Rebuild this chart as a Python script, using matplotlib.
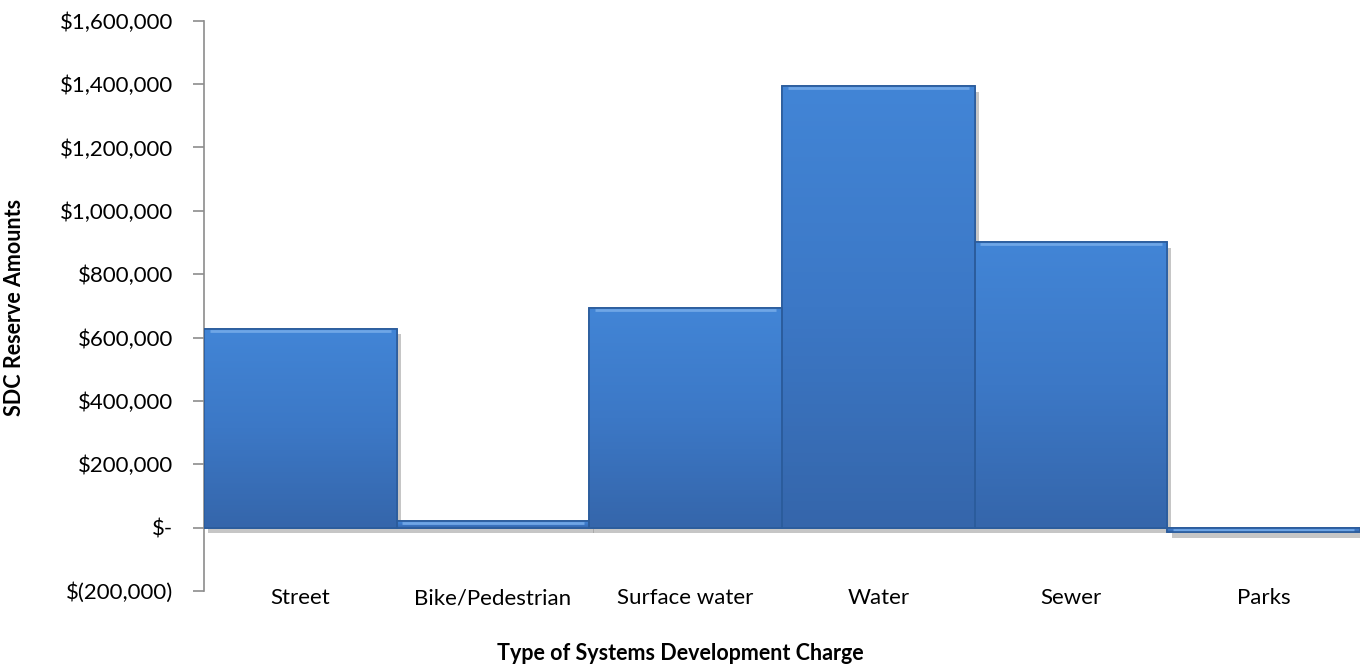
import matplotlib.pyplot as plt
import matplotlib.patheffects as pe
from matplotlib.colors import LinearSegmentedColormap
from matplotlib.ticker import FuncFormatter
import numpy as np

# data
categories = ['Street', 'Bike/Pedestrian', 'Surface water', 'Water', 'Sewer', 'Parks']
reserves = [628000, 21000, 693000, 1394000, 900000, -15000]

y_ticks = np.arange(-200000, 1600001, 200000)

plt.rcParams['font.family'] = ['Lato', 'DejaVu Sans']


def money(v, pos=None):
    if v == 0:
        return '$-'
    if v < 0:
        return '$({:,.0f})'.format(-v)
    return '${:,.0f}'.format(v)


fig = plt.figure(figsize=(13.6, 6.68), dpi=100)
ax = fig.add_axes([0.15, 0.1153, 0.85, 0.8537])

x = np.arange(len(categories))
bars = ax.bar(x, reserves, width=1.0, color='#3D7ECF', edgecolor='#2B5C9C',
              linewidth=1.2, zorder=3)

# soft vertical gradient inside each bar (lighter top, darker bottom)
grad = LinearSegmentedColormap.from_list('bar', ['#3566AB', '#3C78C6', '#4285D6'])
for b in bars:
    b.set_path_effects([pe.SimplePatchShadow(offset=(3, -4), shadow_rgbFace='#8f8f8f', alpha=0.5),
                        pe.Normal()])
    x0, y0 = b.get_x(), b.get_y()
    w, h = b.get_width(), b.get_height()
    lo, hi = min(y0, y0 + h), max(y0, y0 + h)
    im = ax.imshow(np.linspace(0, 1, 100).reshape(-1, 1), cmap=grad, origin='lower',
                   extent=[x0, x0 + w, lo, hi], aspect='auto', zorder=3.5)
    im.set_clip_path(b)
    # light bevel along the top of the bar
    ax.plot([x0 + 0.03, x0 + w - 0.03], [hi - 6000, hi - 6000], color='#6FA6E6',
            linewidth=2, zorder=4, solid_capstyle='butt')
    ax.bar(x0 + w / 2, h, bottom=y0, width=w, facecolor='none', edgecolor='#2B5C9C',
           linewidth=1.2, zorder=4.5)

# zero line acts as the category axis
ax.axhline(0, color='#8c8c8c', linewidth=1.2, zorder=2)

ax.set_xlim(-0.5, len(categories) - 0.5)
ax.set_ylim(-200000, 1600000)
ax.set_yticks(y_ticks)
ax.yaxis.set_major_formatter(FuncFormatter(money))
ax.set_xticks(x)
ax.set_xticklabels(categories)

for s in ['top', 'right', 'bottom']:
    ax.spines[s].set_visible(False)
ax.spines['left'].set_color('#8c8c8c')
ax.spines['left'].set_linewidth(1.2)
ax.tick_params(axis='y', length=8, width=1.2, color='#8c8c8c', labelsize=16, pad=14)
ax.tick_params(axis='x', length=0, labelsize=16, pad=-2)

fig.text(0.0105, 0.54, 'SDC Reserve Amounts', rotation=90, fontsize=15.5,
         fontweight='bold', ha='center', va='center')
fig.text(0.5, 1 - 654 / 668, 'Type of Systems Development Charge', fontsize=15.5,
         fontweight='bold', ha='center', va='center')

fig.savefig('out.png', dpi=100)
